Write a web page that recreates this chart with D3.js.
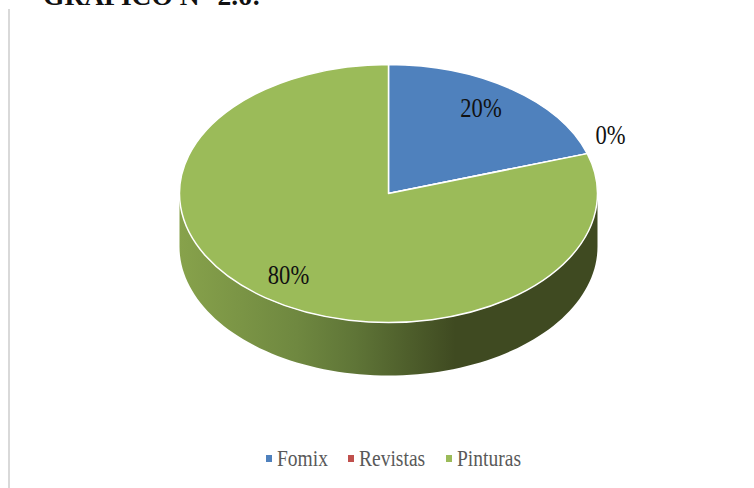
<!DOCTYPE html>
<html><head><meta charset="utf-8">
<script src="https://cdnjs.cloudflare.com/ajax/libs/d3/7.8.5/d3.min.js"></script>
<style>html,body{margin:0;padding:0;background:#fff}svg{display:block}</style></head>
<body><svg id="c" width="754" height="488"></svg>
<script>
const categories = ["Fomix", "Revistas", "Pinturas"];
const values = [20, 0, 80];
const labels = ["20%", "0%", "80%"];
const colors = ["#4f81bd", "#c0504d", "#9bbb59"];
const wallStops = [[0,"#87a24b"],[0.28,"#6f8840"],[0.42,"#5f7537"],[0.66,"#3f4a21"],[1,"#3f4a21"]];

const W=754,H=488,cx=388.5,cy=193.5,rx=209,ry=129,depth=53;
const svg=d3.select("#c");
const font="'Liberation Serif','Times New Roman',serif";

svg.append("rect").attr("x",8).attr("y",9).attr("width",2).attr("height",H-9).attr("fill","#d9d9d9");

// title, cropped by the top edge as in the reference
svg.append("text").attr("transform","translate(43,4.5)")
  .attr("font-family",font).attr("font-weight","bold").attr("font-size",27.5).attr("fill","#111")
  .text("GRÁFICO N° 2.6:");

const defs=svg.append("defs");
const xScale=d3.scaleLinear().domain([-1,1]).range([cx-rx,cx+rx]);
const yScale=d3.scaleLinear().domain([-1,1]).range([cy-ry,cy+ry]);
const grad=defs.append("linearGradient").attr("id","wall").attr("gradientUnits","userSpaceOnUse")
  .attr("x1",xScale(-1)).attr("x2",xScale(1)).attr("y1",0).attr("y2",0);
wallStops.forEach(s=>grad.append("stop").attr("offset",s[0]).attr("stop-color",s[1]));

// wall: the lower half of the ellipse extruded
const ang=d3.range(0,181,2).map(a=>a*Math.PI/180);
const ptTop=a=>[xScale(Math.cos(a)),yScale(Math.sin(a))];
const ptBot=a=>[xScale(Math.cos(a)),yScale(Math.sin(a))+depth];
const wall=[...ang.map(ptTop),...ang.slice().reverse().map(ptBot)];
svg.append("path").attr("d",d3.line()(wall)+"Z").attr("fill","url(#wall)");

// top face
const pie=d3.pie().sort(null).value(d=>d)(values);
const arc=d3.arc().innerRadius(0).outerRadius(1);
const g=svg.append("g").attr("transform",`translate(${cx},${cy}) scale(${rx},${ry})`);
g.selectAll("path").data(pie).join("path")
  .attr("d",arc).attr("fill",(d,i)=>colors[i])
  .attr("stroke","#fff").attr("stroke-width",1.5).attr("vector-effect","non-scaling-stroke")
  .attr("stroke-linejoin","round");

// data labels
const labelPos=[[481,111],[610.5,138],[288.5,278]];
labels.forEach((t,i)=>svg.append("text")
  .attr("transform",`translate(${labelPos[i][0]},${labelPos[i][1]}) scale(0.94,1.1)`)
  .attr("text-anchor","middle").attr("dominant-baseline","middle")
  .attr("font-family",font).attr("font-size",24).attr("fill","#111").text(t));

// legend
const legX=[266,348,446];
categories.forEach((c,i)=>{
  svg.append("rect").attr("x",legX[i]).attr("y",455).attr("width",6).attr("height",7).attr("fill",colors[i]);
  svg.append("text").attr("transform",`translate(${legX[i]+11},465.5) scale(0.93,1.08)`)
    .attr("font-family",font).attr("font-size",21).attr("fill","#595959").text(c);
});
</script></body></html>
